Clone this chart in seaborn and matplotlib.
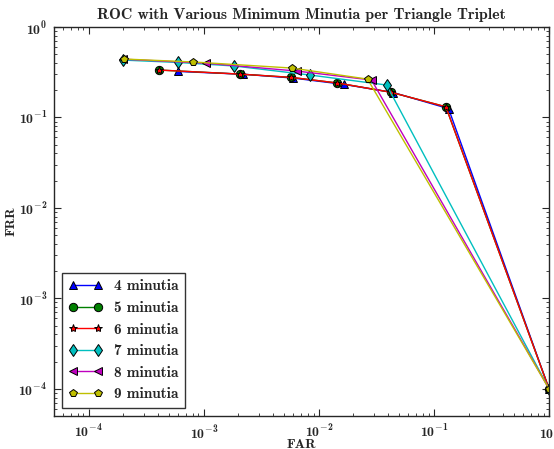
import matplotlib
matplotlib.use("Agg")
import matplotlib.pyplot as plt
import matplotlib.ticker as mticker
import seaborn as sns
import pandas as pd
import numpy as np

# Datos (FAR, FRR) por numero minimo de minucias
far_4 = [6.0e-4, 2.2e-3, 6.0e-3, 1.64e-2, 4.45e-2, 0.134, 1.0]
frr_4 = [0.322, 0.300, 0.272, 0.232, 0.188, 0.125, 1e-4]

far_5 = [4.07e-4, 2.07e-3, 5.75e-3, 1.45e-2, 4.2e-2, 0.127, 1.0]
frr_5 = [0.334, 0.301, 0.277, 0.240, 0.190, 0.131, 1e-4]

far_6 = [4.07e-4, 2.07e-3, 5.75e-3, 1.45e-2, 4.2e-2, 0.127, 1.0]
frr_6 = [0.334, 0.301, 0.277, 0.240, 0.190, 0.131, 1e-4]

far_7 = [2.0e-4, 6.0e-4, 1.84e-3, 8.4e-3, 3.88e-2, 1.0]
frr_7 = [0.430, 0.405, 0.370, 0.294, 0.228, 1e-4]

far_8 = [2.0e-4, 1.05e-3, 6.5e-3, 2.87e-2, 1.0]
frr_8 = [0.440, 0.397, 0.325, 0.259, 1e-4]

far_9 = [2.02e-4, 8.05e-4, 5.87e-3, 2.65e-2, 1.0]
frr_9 = [0.442, 0.410, 0.351, 0.265, 1e-4]

etiquetas = ["4 minutia", "5 minutia", "6 minutia",
             "7 minutia", "8 minutia", "9 minutia"]
series = [(far_4, frr_4), (far_5, frr_5), (far_6, frr_6),
          (far_7, frr_7), (far_8, frr_8), (far_9, frr_9)]

colores = [(0, 0, 1), (0, 0.5, 0), (1, 0, 0),
           (0, 0.75, 0.75), (0.75, 0, 0.75), (0.75, 0.75, 0)]
marcadores = ["^", "o", "*", "d", "<", "p"]

# Estilo
sns.set_style("ticks", {"xtick.direction": "in", "ytick.direction": "in"})
plt.rcParams["font.family"] = ["cmb10", "DejaVu Serif"]
plt.rcParams["mathtext.fontset"] = "custom"
plt.rcParams["mathtext.rm"] = "cmb10"
plt.rcParams["mathtext.it"] = "cmb10"
plt.rcParams["mathtext.bf"] = "cmb10"
plt.rcParams["mathtext.fallback"] = "cm"
plt.rcParams["axes.unicode_minus"] = True

fig = plt.figure(figsize=(5.54, 4.49), dpi=100)
ax = fig.add_axes([0.0975, 0.0735, 0.8935, 0.8665])

for (far, frr), lab, col, mk in zip(series, etiquetas, colores, marcadores):
    df = pd.DataFrame({"FAR": far, "FRR": frr})
    sns.lineplot(data=df, x="FAR", y="FRR", ax=ax, color=col, marker=mk,
                 markersize=6, markeredgecolor="k", markeredgewidth=0.7,
                 linewidth=1.0, label=lab, sort=False)

ax.set_xscale("log")
ax.set_yscale("log")
ax.set_xlim(5e-5, 1)
ax.set_ylim(5e-5, 1)


# Etiquetas 10^n en negrita
def fmt_pot(v, pos):
    e = int(round(np.log10(v)))
    return r"$10^{%d}$" % e


for eje in (ax.xaxis, ax.yaxis):
    eje.set_major_locator(mticker.LogLocator(base=10, numticks=10))
    eje.set_major_formatter(mticker.FuncFormatter(fmt_pot))

ax.tick_params(which="both", top=True, right=True, direction="in")
ax.tick_params(which="major", length=5, labelsize=10, pad=5)
ax.tick_params(which="minor", length=2.5)
for s in ax.spines.values():
    s.set_linewidth(1.0)

ax.set_title("ROC with Various Minimum Minutia per Triangle Triplet",
             fontsize=11.4, pad=6)
ax.set_xlabel("FAR", fontsize=10)
ax.set_ylabel("FRR", fontsize=10)
ax.xaxis.set_label_coords(0.5, -0.058)
ax.yaxis.set_label_coords(-0.073, 0.5)

leg = ax.legend(loc="lower left", numpoints=2, fancybox=False,
                frameon=True, edgecolor="k", fontsize=11,
                handlelength=2.2, borderaxespad=0.55)
leg.get_frame().set_linewidth(1.0)

fig.savefig("out.png", dpi=100)
